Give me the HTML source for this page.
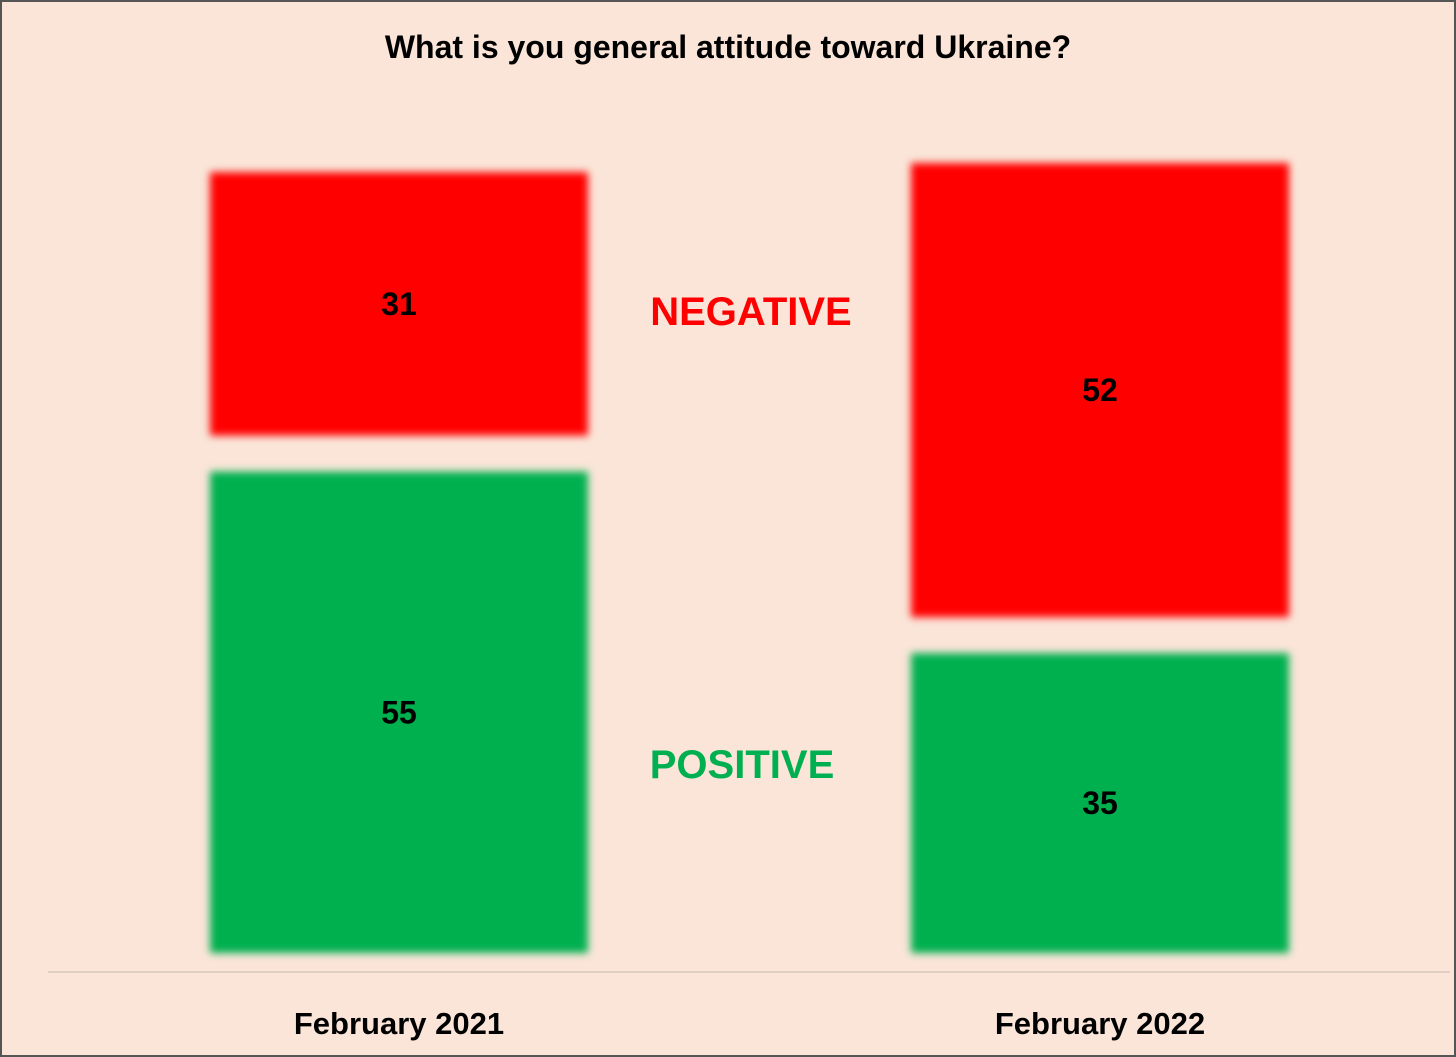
<!DOCTYPE html>
<html><head><meta charset="utf-8"><style>
html,body{margin:0;padding:0;background:#fae5d8;}
svg{display:block;font-family:"Liberation Sans",sans-serif;}
</style></head><body>
<svg id="chart" width="1456" height="1057">
<defs><filter id="blur" x="-10%" y="-10%" width="120%" height="120%"><feGaussianBlur stdDeviation="4"/></filter></defs>
<rect x="1" y="1" width="1454" height="1055" fill="#fae5d8" stroke="#555" stroke-width="2"/>
<text x="728" y="58" text-anchor="middle" font-size="32" font-weight="bold" fill="#000">What is you general attitude toward Ukraine?</text>
<line x1="48" y1="972" x2="1450" y2="972" stroke="#d9c8bd" stroke-width="1.5"/>
<text x="751" y="325" text-anchor="middle" font-size="40" font-weight="bold" fill="#ff0000">NEGATIVE</text>
<text x="742" y="778" text-anchor="middle" font-size="40" font-weight="bold" fill="#00b050">POSITIVE</text>
<g id="bars"></g>
</svg>
<script>
const categories = ["February 2021", "February 2022"];
const positiveValues = [55, 35];
const negativeValues = [31, 52];
const svg = document.getElementById('chart');
const g = document.getElementById('bars');
const NS = 'http://www.w3.org/2000/svg';
const baseY = 953, pxPerUnit = 9.08, gap = 18;
const yScale = v => baseY - v * pxPerUnit;
const xCenter = i => 399 + i * 701;
const barW = 378;
function seg(i, lo, hi, color, label, name, trimBottom, trimTop) {
  const y1 = yScale(hi) + trimTop, y2 = yScale(lo) - trimBottom;
  const r = document.createElementNS(NS, 'rect');
  r.setAttribute('x', xCenter(i) - barW / 2);
  r.setAttribute('y', y1);
  r.setAttribute('width', barW);
  r.setAttribute('height', y2 - y1);
  r.setAttribute('fill', color);
  r.setAttribute('filter', 'url(#blur)');
  
  
  g.appendChild(r);
  const t = document.createElementNS(NS, 'text');
  t.setAttribute('x', xCenter(i));
  t.setAttribute('y', (y1 + y2) / 2 + 11);
  t.setAttribute('text-anchor', 'middle');
  t.setAttribute('font-size', '32');
  t.setAttribute('font-weight', 'bold');
  t.textContent = label;
  
  
  g.appendChild(t);
}
categories.forEach((c, i) => {
  const p = positiveValues[i], n = negativeValues[i];
  seg(i, 0, p, '#00b050', p, 'positive-bar-' + (i + 1), 0, gap);
  seg(i, p, p + n, '#ff0000', n, 'negative-bar-' + (i + 1), gap, 0);
  const t = document.createElementNS(NS, 'text');
  t.setAttribute('x', xCenter(i));
  t.setAttribute('y', 1034);
  t.setAttribute('text-anchor', 'middle');
  t.setAttribute('font-size', '31');
  t.setAttribute('font-weight', 'bold');
  t.textContent = c;
  
  
  g.appendChild(t);
});
</script>
</body></html>
